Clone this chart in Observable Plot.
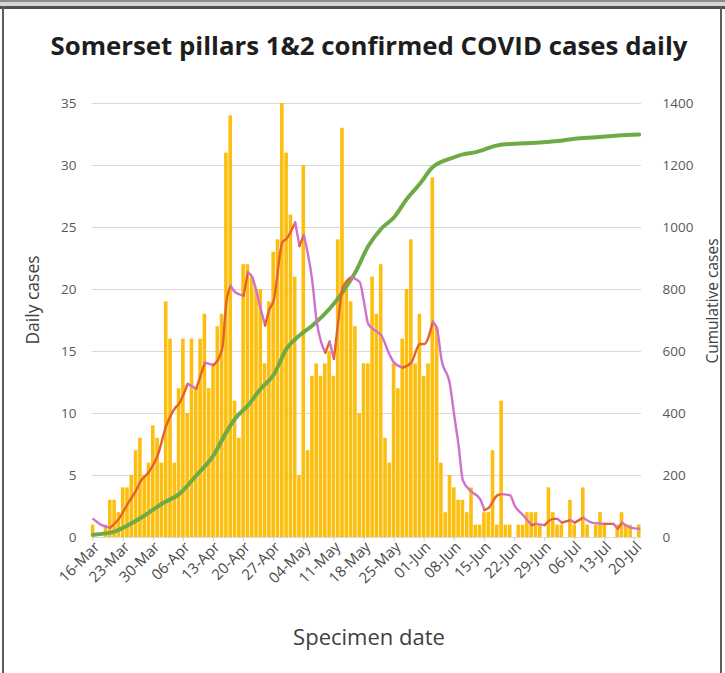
<!DOCTYPE html>
<html><head><meta charset="utf-8">
<script src="https://cdn.jsdelivr.net/npm/d3@7"></script>
<script src="https://cdn.jsdelivr.net/npm/@observablehq/plot@0.6"></script>
<style>
body{margin:0;background:#fff;font-family:"Open Sans",sans-serif;}
#wrap{position:relative;width:725px;height:673px;overflow:hidden;background:#fff;}
#chart{position:absolute;left:0;top:0;}
.title{position:absolute;left:0;width:738px;top:27px;text-align:center;font-weight:700;font-size:25.8px;line-height:36px;color:#1e1e1e;white-space:nowrap;}
.ylab{position:absolute;white-space:nowrap;color:#404040;transform-origin:center;transform:translate(-50%,-50%) rotate(-90deg);}
.xlab{position:absolute;white-space:nowrap;color:#404040;transform:translate(-50%,-50%);}
.b{position:absolute;background:#5c5c5c;}
</style></head>
<body>
<div id="wrap">
  <div id="chart"></div>
  <div class="title">Somerset pillars 1&amp;2 confirmed COVID cases daily</div>
  <div class="ylab" style="left:32px;top:300px;font-size:17.5px;">Daily cases</div>
  <div class="ylab" style="left:712px;top:301px;font-size:15.5px;">Cumulative cases</div>
  <div class="xlab" style="left:369px;top:636px;font-size:22px;">Specimen date</div>
  <div class="b" style="left:0;top:0;width:725px;height:2px;background:#8c8c8c"></div>
  <div class="b" style="left:0;top:2px;width:725px;height:4px;background:#d6d6d6"></div>
  <div class="b" style="left:0;top:6px;width:725px;height:3px;background:#505050"></div>
  <div class="b" style="left:2px;top:6px;width:2px;height:667px;"></div>
  <div class="b" style="left:720px;top:6px;width:2px;height:667px;"></div>
</div>
<script>
// ---- data ----
const startDate = "2020-03-16";
// daily confirmed cases, one per day from 16-Mar
const dailyCases = [
  1,0,0,1,3,3,2,4,4,5,7,8,5,6,9,8,6,19,16,6,12,
  16,10,16,12,16,18,12,14,17,18,31,34,11,8,22,22,21,20,20,14,19,23,
  24,35,31,26,21,5,30,7,13,14,13,14,15,13,24,33,20,19,17,10,14,14,
  21,18,22,8,6,14,12,16,20,24,14,18,13,14,29,17,6,2,5,4,3,3,
  2,4,1,1,2,2,7,1,11,1,1,0,1,1,2,2,2,1,0,4,2,1,
  1,0,3,1,0,4,1,0,1,2,1,0,0,1,2,1,1,0,1
];
// 7-day average line readings (day number from 16-Mar, value)
const avgDay = [0,2,4,6,8,10,11,13,15,17,19,20,22,24,26,28,30,31,32,33,35,36,37,39,40,41,42,44,45,47,48,49,51,52,53,54,55,56,57,58,60,62,63,64,66,67,69,70,72,74,76,77,79,80,81,83,84,85,86,88,90,91,92,94,95,97,98,100,102,103,105,107,108,109,111,112,114,116,119,121,122,123,125,127];
const avgValue = [1.5,1.0,0.8,1.5,2.7,3.8,4.5,5.3,6.6,9.0,10.4,10.8,12.4,12.0,14.1,13.9,15.2,19.0,20.3,19.8,19.5,21.4,21.0,18.4,17.1,18.4,19.1,23.8,24.1,25.4,23.5,24.4,20.6,17.4,15.8,14.9,15.8,14.4,17.4,20.1,21.0,20.6,19.0,17.2,16.6,16.3,14.7,14.1,13.7,14.1,15.6,15.6,17.4,16.8,14.4,12.3,9.8,7.4,4.6,3.7,3.1,2.2,2.4,3.4,3.5,3.4,2.6,1.8,1.0,1.1,1.0,1.5,1.5,1.2,1.4,1.2,1.6,1.2,1.1,1.1,0.7,1.2,0.8,0.7];
// cumulative cases line readings
const cumDay = [0,5,8,12,16,20,24,28,31,33,36,39,42,45,48,51,55,58,61,64,67,70,73,76,79,80,83,86,89,94,98,103,108,112,117,122,127];
const cumValue = [9,19,39,71,109,140,200,265,340,383,426,480,525,609,652,684,738,791,856,940,996,1033,1093,1141,1195,1205,1222,1236,1243,1265,1270,1273,1279,1286,1291,1297,1300];
const leftTicks = [0,5,10,15,20,25,30,35];
const rightTicks = [0,200,400,600,800,1000,1200,1400];
const weekTickLabels = ["16-Mar","23-Mar","30-Mar","06-Apr","13-Apr","20-Apr","27-Apr","04-May","11-May","18-May","25-May","01-Jun","08-Jun","15-Jun","22-Jun","29-Jun","06-Jul","13-Jul","20-Jul"];

// ---- build ----
const t0 = new Date(startDate + "T00:00:00Z");
const day = n => new Date(+t0 + n * 864e5);
const bars = dailyCases.map((v, i) => ({date: day(i), cases: v}));
const avg = avgDay.map((d, i) => ({date: day(d), v: avgValue[i]}));
avg.forEach((d, i) => { const n = avg[i + 1]; d.col = (n && n.v >= d.v) ? "#e5622c" : "#cf72cc"; });
const cum = cumDay.map((d, i) => ({date: day(d), v: cumValue[i]}));
const ratio = rightTicks[rightTicks.length - 1] / leftTicks[leftTicks.length - 1];
const tickDates = weekTickLabels.map((s, i) => day(7 * i));
const fmt = new Map(tickDates.map((d, i) => [+d, weekTickLabels[i]]));
const half = 0.42 * 864e5;

const chart = Plot.plot({
  width: 725, height: 673,
  marginTop: 103, marginBottom: 136, marginLeft: 92, marginRight: 84,
  style: {fontFamily: "'Open Sans', sans-serif", fontSize: "13.5px", color: "#595959", background: "transparent"},
  x: {type: "utc", domain: [day(-0.14), day(127.53)]},
  y: {domain: [0, 35]},
  marks: [
    Plot.ruleY(leftTicks, {stroke: "#d9d9d9", strokeWidth: 1.2}),
    Plot.rectY(bars, {x1: d => new Date(+d.date - half), x2: d => new Date(+d.date + half), y: "cases", fill: "#fcbf0f"}),
    Plot.line(cum, {x: "date", y: d => d.v / ratio, stroke: "#6eab46", strokeWidth: 4, curve: "monotone-x"}),
    Plot.line(avg, {x: "date", y: "v", z: null, stroke: "col", strokeWidth: 2.4, curve: "monotone-x"}),
    Plot.axisY({ticks: leftTicks, tickSize: 0, tickPadding: 16, label: null, fontSize: 13.5}),
    Plot.axisY({anchor: "right", ticks: leftTicks, tickFormat: d => String(d * ratio), tickSize: 0, tickPadding: 21, label: null, fontSize: 13.5}),
    Plot.axisX({ticks: tickDates, tickSize: 4, stroke: "#d0d0d0", tickFormat: null, text: null}),
    Plot.axisX({ticks: tickDates, tickFormat: d => fmt.get(+d), tickRotate: -45, tickSize: 0, tickPadding: 4, dx: 4, dy: 3, label: null, fontSize: 15, fill: "#4a4a4a"})
  ]
});
document.getElementById("chart").appendChild(chart);
</script>
</body></html>
